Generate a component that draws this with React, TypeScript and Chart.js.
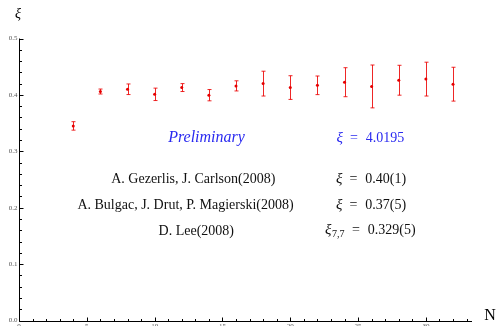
import React, { useEffect, useRef } from "react";
import { Chart, registerables } from "chart.js";

Chart.register(...registerables);

const nValues = [4, 6, 8, 10, 12, 14, 16, 18, 20, 22, 24, 26, 28, 30, 32];
const xiValues = [0.345, 0.406, 0.41, 0.401, 0.413, 0.3995, 0.416, 0.42, 0.413, 0.417, 0.4225, 0.415, 0.426, 0.428, 0.419];
const xiErrors = [0.0075, 0.0044, 0.0094, 0.011, 0.007, 0.01, 0.009, 0.022, 0.021, 0.0165, 0.0257, 0.038, 0.0265, 0.03, 0.03];

const yTickValues = [0, 0.1, 0.2, 0.3, 0.4, 0.5];
const yTickLabels = ["0.0", "0.1", "0.2", "0.3", "0.4", "0.5"];
const xTickValues = [0, 5, 10, 15, 20, 25, 30];
const xTickLabels = ["0", "5", "10", "15", "20", "25", "30"];

const refLabels = ["A. Gezerlis, J. Carlson(2008)", "A. Bulgac, J. Drut, P. Magierski(2008)", "D. Lee(2008)"];
const refValues = ["0.40(1)", "0.37(5)", "0.329(5)"];
const prelimLabel = "Preliminary";
const prelimValue = "4.0195";

const X_MAX = 33.4;
const Y_MAX = 0.5;

const SERIF = "'Liberation Serif', 'Times New Roman', serif";

export default function App() {
  const ref = useRef<HTMLCanvasElement | null>(null);

  useEffect(() => {
    const canvas = ref.current;
    if (!canvas) return;

    const overlay = {
      id: "overlay",
      beforeDatasetsDraw(chart: any) {
        const ctx = chart.ctx;
        const xs = chart.scales.x;
        const ys = chart.scales.y;
        ctx.save();
        ctx.strokeStyle = "rgba(235,0,0,0.85)";
        ctx.lineWidth = 1;
        for (let i = 0; i < nValues.length; i++) {
          const px = Math.round(xs.getPixelForValue(nValues[i])) + 0.5;
          const top = ys.getPixelForValue(xiValues[i] + xiErrors[i]);
          const bot = ys.getPixelForValue(xiValues[i] - xiErrors[i]);
          ctx.beginPath();
          ctx.moveTo(px, top);
          ctx.lineTo(px, bot);
          ctx.moveTo(px - 2, top);
          ctx.lineTo(px + 2, top);
          ctx.moveTo(px - 2, bot);
          ctx.lineTo(px + 2, bot);
          ctx.stroke();
        }
        ctx.restore();
      },
      afterDraw(chart: any) {
        const ctx = chart.ctx;
        const xs = chart.scales.x;
        const ys = chart.scales.y;
        const x0 = Math.round(xs.getPixelForValue(0)) + 0.5;
        const y0 = Math.round(ys.getPixelForValue(0)) + 0.5;
        const yTop = ys.getPixelForValue(Y_MAX);
        const xRight = xs.getPixelForValue(X_MAX);
        ctx.save();
        ctx.strokeStyle = "#000";
        ctx.lineWidth = 1;
        ctx.beginPath();
        ctx.moveTo(x0, yTop);
        ctx.lineTo(x0, y0);
        ctx.lineTo(xRight, y0);
        ctx.stroke();
        ctx.beginPath();
        for (let k = 0; k <= 25; k++) {
          const v = k * 0.02;
          const py = Math.round(ys.getPixelForValue(v)) + 0.5;
          const len = k % 5 === 0 ? 4 : 2.5;
          ctx.moveTo(x0, py);
          ctx.lineTo(x0 + len, py);
        }
        for (let k = 0; k <= 33; k++) {
          const px = Math.round(xs.getPixelForValue(k)) + 0.5;
          const len = k % 5 === 0 ? 4 : 2.5;
          ctx.moveTo(px, y0);
          ctx.lineTo(px, y0 - len);
        }
        ctx.stroke();
        ctx.fillStyle = "#555";
        ctx.font = "7px " + SERIF;
        ctx.textAlign = "right";
        ctx.textBaseline = "middle";
        yTickValues.forEach((v, i) => {
          ctx.fillText(yTickLabels[i], x0 - 2, ys.getPixelForValue(v));
        });
        ctx.textAlign = "center";
        ctx.textBaseline = "top";
        xTickValues.forEach((v, i) => {
          ctx.fillText(xTickLabels[i], xs.getPixelForValue(v), y0 + 1.5);
        });
        ctx.fillStyle = "#000";
        ctx.font = "italic 14px " + SERIF;
        ctx.textAlign = "center";
        ctx.textBaseline = "middle";
        ctx.fillText("ξ", 18, 14);
        ctx.font = "16px " + SERIF;
        ctx.fillText("N", 490, 316);

        ctx.fillStyle = "#2a2af0";
        ctx.font = "italic 16px " + SERIF;
        ctx.fillText(prelimLabel, 206.5, 138);

        const drawXi = (value: string, left: number, cy: number, color: string, sub?: string) => {
          ctx.fillStyle = color;
          ctx.textAlign = "left";
          let x = left;
          ctx.font = "italic 15px " + SERIF;
          ctx.fillText("ξ", x, cy);
          x += ctx.measureText("ξ").width;
          if (sub) {
            ctx.font = "10px " + SERIF;
            ctx.fillText(sub, x + 0.5, cy + 4);
            x += ctx.measureText(sub).width + 1;
          }
          ctx.font = "14px " + SERIF;
          x += 7;
          ctx.fillText("=", x, cy);
          x += ctx.measureText("=").width + 8;
          ctx.fillText(value, x, cy);
        };
        drawXi(prelimValue, 336.5, 138.5, "#2a2af0");
        const rowsY = [179, 205, 231];
        const rowsX = [193.3, 185.5, 196.3];
        refLabels.forEach((t, i) => {
          ctx.fillStyle = "#111";
          ctx.font = "14px " + SERIF;
          ctx.textAlign = "center";
          ctx.fillText(t, rowsX[i], rowsY[i]);
        });
        drawXi(refValues[0], 336, 179.5, "#111");
        drawXi(refValues[1], 336, 205.5, "#111");
        drawXi(refValues[2], 325, 230.5, "#111", "7,7");
        ctx.restore();
      },
    };

    const chart = new Chart(canvas, {
      type: "scatter",
      data: {
        datasets: [
          {
            data: nValues.map((n, i) => ({ x: n, y: xiValues[i] })),
            backgroundColor: "rgb(230,0,0)",
            borderColor: "rgb(230,0,0)",
            pointRadius: 1.5,
            borderWidth: 0,
          },
        ],
      },
      options: {
        responsive: false,
        animation: false,
        layout: { padding: { left: 19, right: 25, top: 38.5, bottom: 5.5 } },
        plugins: { legend: { display: false }, tooltip: { enabled: false } },
        scales: {
          x: { type: "linear", display: false, min: 0, max: X_MAX },
          y: { type: "linear", display: false, min: 0, max: Y_MAX },
        },
      },
      plugins: [overlay],
    });
    return () => chart.destroy();
  }, []);

  return (
    <div style={{ position: "absolute", left: 0, top: 0, width: 497, height: 326, background: "#fff" }}>
      <canvas ref={ref} width={497} height={326} style={{ width: 497, height: 326, display: "block" }} />
    </div>
  );
}
